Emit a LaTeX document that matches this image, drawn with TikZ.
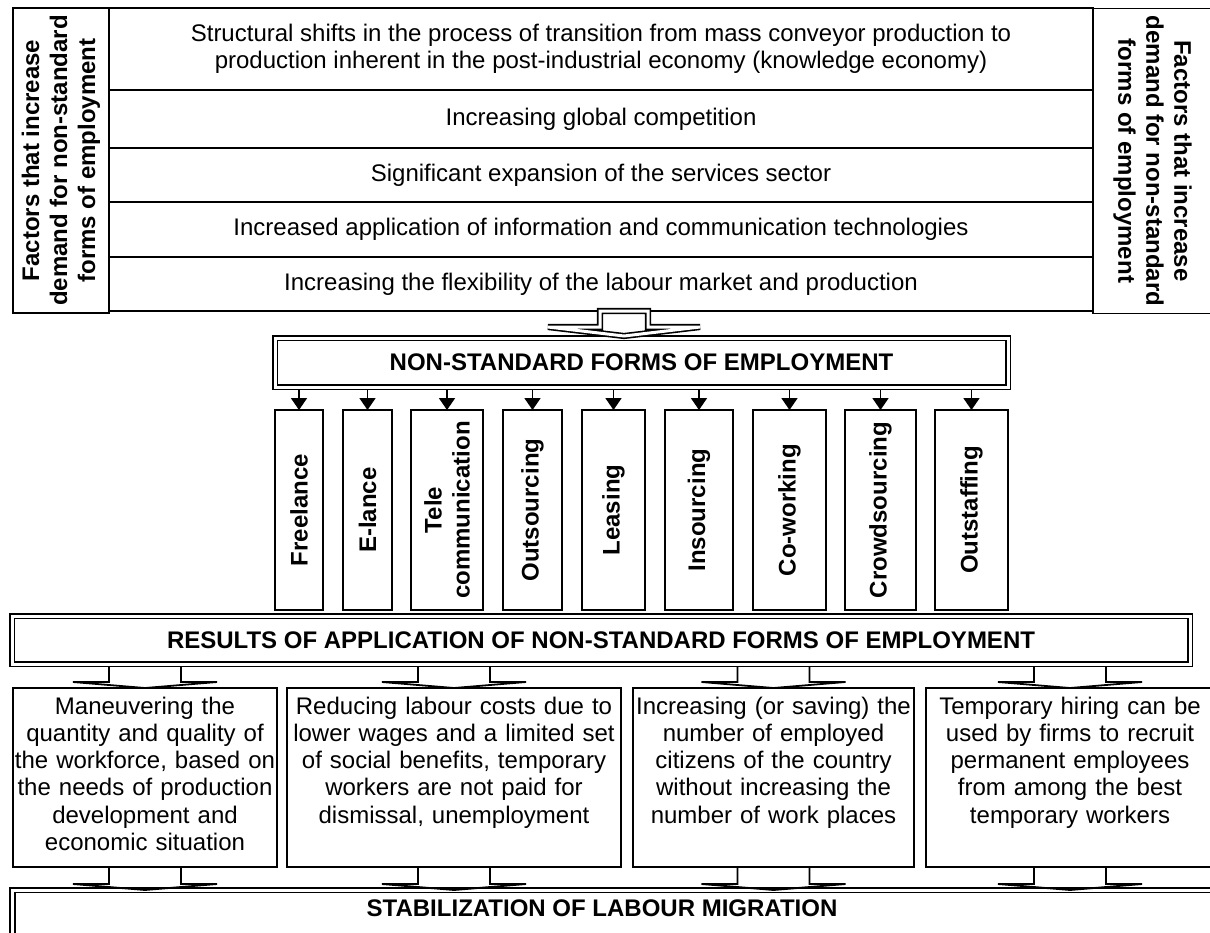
\documentclass[tikz,border=0pt]{standalone}
\usepackage{fontspec}
\setmainfont{Liberation Sans}
\usetikzlibrary{arrows.meta}

\newcommand{\txt}{\fontsize{24}{27.3}\selectfont\hyphenpenalty=10000}
\newcommand{\btxt}{\fontsize{24}{28}\selectfont\bfseries}

% wide flat block arrow from a box down to the next one
\newcommand{\blockarrow}[3][0pt]{%
  \draw[line width=1.8pt] ([xshift=-36pt,yshift=-#1]#2) -- ([xshift=-36pt,yshift=6pt]#3)
    -- ([xshift=-72pt,yshift=6pt]#3) -- (#3) -- ([xshift=72pt,yshift=6pt]#3)
    -- ([xshift=36pt,yshift=6pt]#3) -- ([xshift=36pt,yshift=-#1]#2);}

\tikzset{
  rowbox/.style={draw, minimum width=984pt, align=center, font=\txt, inner sep=0pt, outer sep=0pt},
  sidebox/.style={draw, minimum width=305pt, align=center, font=\btxt, inner sep=0pt, outer sep=0pt},
  dblbox/.style={draw, double, double distance=3pt, font=\btxt, inner sep=0pt, outer sep=0pt},
  formbox/.style={draw, line width=2pt, rotate=90, minimum width=200pt, align=center, font=\btxt, inner sep=0pt, outer sep=0pt},
  resbox/.style={draw, align=center, font=\txt, text height=18pt, text depth=145pt, inner xsep=2pt, inner ysep=8pt, outer sep=0pt},
  formarrow/.style={-{Triangle[width=16pt,length=12pt]}, line width=1.8pt, shorten <=3pt}
}

\begin{document}
\begin{tikzpicture}[x=1pt, y=-1pt, line width=1.6pt]
    \useasboundingbox (0,0) rectangle (1210,932);
    \clip (0,0) rectangle (1210,932);
    % factors
    \node[sidebox, rotate=90, minimum height=96pt] (left) at (61,160.5) {Factors that increase\\demand for non-standard\\forms of employment};
    \node[sidebox, rotate=-90, minimum height=119pt] (right) at (1152.5,161) {Factors that increase\\demand for non-standard\\forms of employment};
    \node[rowbox, minimum height=82pt] (row1) at (601,49) {Structural shifts in the process of transition from mass conveyor production to\\production inherent in the post-industrial economy (knowledge economy)};
    \node[rowbox, minimum height=58pt] (row2) at (601,119) {Increasing global competition};
    \node[rowbox, minimum height=54pt] (row3) at (601,175) {Significant expansion of the services sector};
    \node[rowbox, minimum height=55pt] (row4) at (601,229.5) {Increased application of information and communication technologies};
    \node[rowbox, minimum height=54pt] (row5) at (601,284) {Increasing the flexibility of the labour market and production};
    % forms
    \node[dblbox, minimum width=733pt, minimum height=49pt] (nsf) at (641.5,362.5) {NON-STANDARD FORMS OF EMPLOYMENT};
    \coordinate (ntop) at ([xshift=23pt]row5.south);
    \coordinate (ntip) at ([xshift=-17.5pt,yshift=2pt]nsf.north);
    \draw[double, double distance=3pt] ([xshift=-24pt]ntop) -- ([xshift=-24pt,yshift=9pt]ntip) -- ([xshift=-76pt,yshift=9pt]ntip) -- (ntip) -- ([xshift=76pt,yshift=9pt]ntip) -- ([xshift=24pt,yshift=9pt]ntip) -- ([xshift=24pt]ntop) -- cycle;
    \node[formbox, minimum height=48pt] (f1) at (299,510) {Freelance};
    \node[formbox, minimum height=49pt] (f2) at (367.5,510) {E-lance};
    \node[formbox, minimum height=72pt] (f3) at (447,510) {Tele\\communication};
    \node[formbox, minimum height=59pt] (f4) at (532.5,510) {Outsourcing};
    \node[formbox, minimum height=63pt] (f5) at (613.5,510) {Leasing};
    \node[formbox, minimum height=68pt] (f6) at (699,510) {Insourcing};
    \node[formbox, minimum height=73pt] (f7) at (789.5,510) {Co-working};
    \node[formbox, minimum height=71pt] (f8) at (880.5,510) {Crowdsourcing};
    \node[formbox, minimum height=73pt] (f9) at (971.5,510) {Outstaffing};
    \draw[formarrow] (nsf.south -| f1.east) -- (f1.east);
    \draw[formarrow] (nsf.south -| f2.east) -- (f2.east);
    \draw[formarrow] (nsf.south -| f3.east) -- (f3.east);
    \draw[formarrow] (nsf.south -| f4.east) -- (f4.east);
    \draw[formarrow] (nsf.south -| f5.east) -- (f5.east);
    \draw[formarrow] (nsf.south -| f6.east) -- (f6.east);
    \draw[formarrow] (nsf.south -| f7.east) -- (f7.east);
    \draw[formarrow] (nsf.south -| f8.east) -- (f8.east);
    \draw[formarrow] (nsf.south -| f9.east) -- (f9.east);
    % results
    \node[dblbox, minimum width=1178pt, minimum height=48pt] (res) at (601,640) {RESULTS OF APPLICATION OF NON-STANDARD FORMS OF EMPLOYMENT};
    \node[resbox, inner xsep=0pt, text width=264pt] (r1) at (145,777.5) {Maneuvering the\\quantity and quality of\\\mbox{the workforce, based on}\\the needs of production\\development and\\economic situation};
    \node[resbox, text width=330pt] (r2) at (454,777.5) {Reducing labour costs due to\\lower wages and a limited set\\of social benefits, temporary\\workers are not paid for\\dismissal, unemployment};
    \node[resbox, text width=277pt] (r3) at (773.5,777.5) {Increasing (or saving) the\\number of employed\\citizens of the country\\without increasing the\\number of work places};
    \node[resbox, text width=284pt] (r4) at (1070,777.5) {Temporary hiring can be\\used by firms to recruit\\permanent employees\\from among the best\\temporary workers};
    \blockarrow[3pt]{res.south -| r1.north}{r1.north}
    \blockarrow[3pt]{res.south -| r2.north}{r2.north}
    \blockarrow[3pt]{res.south -| r3.north}{r3.north}
    \blockarrow[3pt]{res.south -| r4.north}{r4.north}
    % stabilization
    \node[dblbox, anchor=north west, minimum width=1230pt, minimum height=80pt] (stab) at (12.5,890) {};
    \node[font=\btxt] (stabtext) at (602,908) {STABILIZATION OF LABOUR MIGRATION};
    \blockarrow{r1.south}{stab.north -| r1.south}
    \blockarrow{r2.south}{stab.north -| r2.south}
    \blockarrow{r3.south}{stab.north -| r3.south}
    \blockarrow{r4.south}{stab.north -| r4.south}
\end{tikzpicture}
\end{document}
